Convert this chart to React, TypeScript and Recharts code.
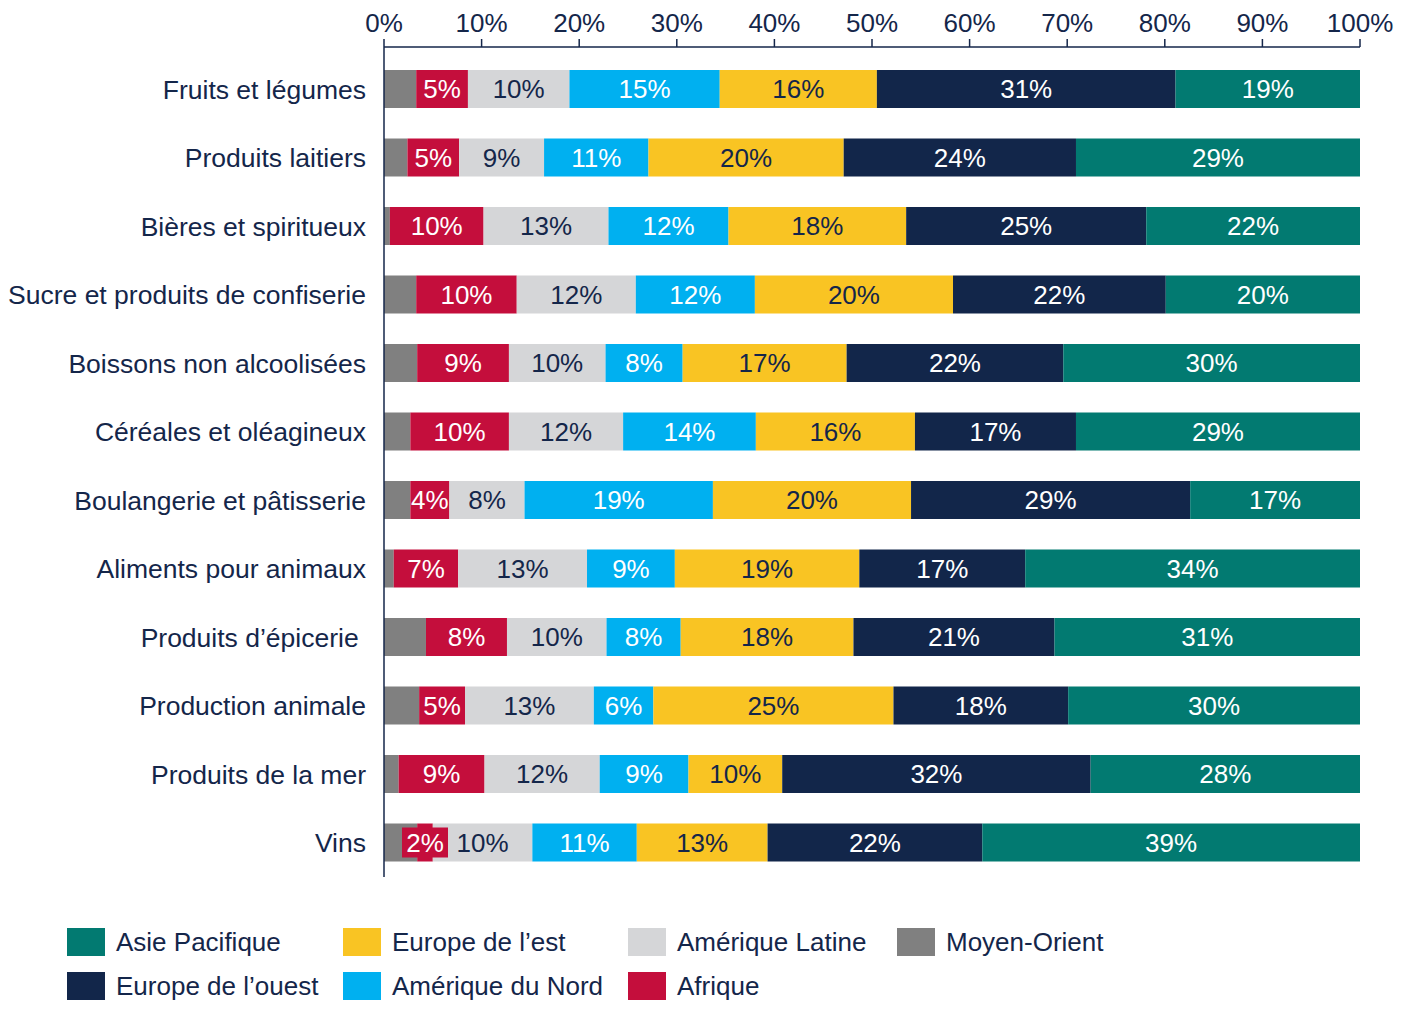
import React from "react";
import { BarChart, Bar, XAxis, YAxis, LabelList } from "recharts";

const categories = [
  "Fruits et légumes",
  "Produits laitiers",
  "Bières et spiritueux",
  "Sucre et produits de confiserie",
  "Boissons non alcoolisées",
  "Céréales et oléagineux",
  "Boulangerie et pâtisserie",
  "Aliments pour animaux",
  "Produits d’épicerie\u00a0",
  "Production animale",
  "Produits de la mer",
  "Vins",
];

// shares in %
const moyenOrient = [3.3, 2.4, 0.6, 3.3, 3.4, 2.7, 2.7, 1.0, 4.3, 3.6, 1.5, 3.4];
const afrique = [5.3, 5.3, 9.6, 10.3, 9.4, 10.1, 4.0, 6.6, 8.3, 4.7, 8.8, 1.6];
const ameriqueLatine = [10.4, 8.7, 12.8, 12.2, 9.9, 11.7, 7.7, 13.2, 10.2, 13.2, 11.8, 10.2];
const ameriqueNord = [15.4, 10.7, 12.3, 12.2, 7.9, 13.6, 19.3, 9.0, 7.6, 6.1, 9.1, 10.7];
const europeEst = [16.1, 20.0, 18.2, 20.3, 16.8, 16.3, 20.3, 18.9, 17.7, 24.6, 9.6, 13.4];
const europeOuest = [30.6, 23.8, 24.6, 21.8, 22.2, 16.5, 28.6, 17.0, 20.6, 17.9, 31.6, 22.0];
const asiePacifique = [18.9, 29.1, 21.9, 19.9, 30.4, 29.1, 17.4, 34.3, 31.3, 29.9, 27.6, 38.7];

const xTicks = [0, 10, 20, 30, 40, 50, 60, 70, 80, 90, 100];

const series = [
  { key: "moyenOrient", name: "Moyen-Orient", color: "#808080", text: null },
  { key: "afrique", name: "Afrique", color: "#C40E3C", text: "#ffffff" },
  { key: "ameriqueLatine", name: "Amérique Latine", color: "#D5D6D8", text: "#14264A" },
  { key: "ameriqueNord", name: "Amérique du Nord", color: "#00B0F0", text: "#ffffff" },
  { key: "europeEst", name: "Europe de l’est", color: "#F9C423", text: "#14264A" },
  { key: "europeOuest", name: "Europe de l’ouest", color: "#12264A", text: "#ffffff" },
  { key: "asiePacifique", name: "Asie Pacifique", color: "#027A71", text: "#ffffff" },
];

// legend order, column by column
const legendOrder = [
  "asiePacifique",
  "europeOuest",
  "europeEst",
  "ameriqueNord",
  "ameriqueLatine",
  "afrique",
  "moyenOrient",
];

const data = categories.map((c, i) => ({
  name: c,
  moyenOrient: moyenOrient[i],
  afrique: afrique[i],
  ameriqueLatine: ameriqueLatine[i],
  ameriqueNord: ameriqueNord[i],
  europeEst: europeEst[i],
  europeOuest: europeOuest[i],
  asiePacifique: asiePacifique[i],
}));

const FONT = '"Liberation Sans", Arial, Helvetica, sans-serif';
const INK = "#14264A";

function makeLabel(fill: string, color: string) {
  return (props: any) => {
    const { x, y, width, height, value } = props;
    const cx = x + width / 2;
    const cy = y + height / 2;
    const txt = `${Math.round(value)}%`;
    const narrow = width < 30;
    return (
      <g>
        {narrow && <rect x={cx - 23} y={cy - 15} width={46} height={30} fill={fill} />}
        <text
          x={cx}
          y={cy}
          textAnchor="middle"
          dominantBaseline="central"
          fill={color}
          fontSize={26}
          fontFamily={FONT}
        >
          {txt}
        </text>
      </g>
    );
  };
}

export default function App() {
  return (
    <div
      style={{
        position: "absolute",
        left: 0,
        top: 0,
        width: 1410,
        height: 1011,
        background: "#fff",
        fontFamily: FONT,
      }}
    >
      <BarChart
        width={1410}
        height={1011}
        data={data}
        layout="vertical"
        margin={{ top: 7, right: 50, bottom: 134, left: 0 }}
      >
        <XAxis
          type="number"
          orientation="top"
          domain={[0, 100]}
          allowDataOverflow
          ticks={xTicks}
          tickFormatter={(v) => `${v}%`}
          height={40}
          tickSize={8}
          tickMargin={7}
          stroke={INK}
          axisLine={{ stroke: INK, strokeWidth: 1.5 }}
          tickLine={{ stroke: INK, strokeWidth: 1.5 }}
          tick={{ fill: INK, fontSize: 26, fontFamily: FONT }}
        />
        <YAxis
          type="category"
          dataKey="name"
          width={384}
          padding={{ top: 8, bottom: 0 }}
          tickLine={false}
          tickSize={0}
          tickMargin={18}
          axisLine={{ stroke: INK, strokeWidth: 1.5 }}
          tick={{ fill: INK, fontSize: 26.5, fontFamily: FONT }}
          interval={0}
        />
        {series.map((s) => (
          <Bar
            key={s.key}
            dataKey={s.key}
            name={s.name}
            stackId="a"
            fill={s.color}
            barSize={38}
            isAnimationActive={false}
          >
            {s.text && (
              <LabelList dataKey={s.key} content={makeLabel(s.color, s.text)} />
            )}
          </Bar>
        ))}
      </BarChart>
      {legendOrder.map((k, i) => {
        const s = series.find((d) => d.key === k)!;
        const colX = [67, 343, 628, 897][Math.floor(i / 2)];
        const rowY = [928, 972][i % 2];
        return (
          <div
            key={k}
            style={{
              position: "absolute",
              left: colX,
              top: rowY,
              height: 28,
              display: "flex",
              alignItems: "center",
              whiteSpace: "nowrap",
            }}
          >
            <span style={{ width: 38, height: 28, background: s.color, display: "inline-block" }} />
            <span style={{ marginLeft: 11, fontSize: 26, color: INK, lineHeight: "28px" }}>{s.name}</span>
          </div>
        );
      })}
    </div>
  );
}
